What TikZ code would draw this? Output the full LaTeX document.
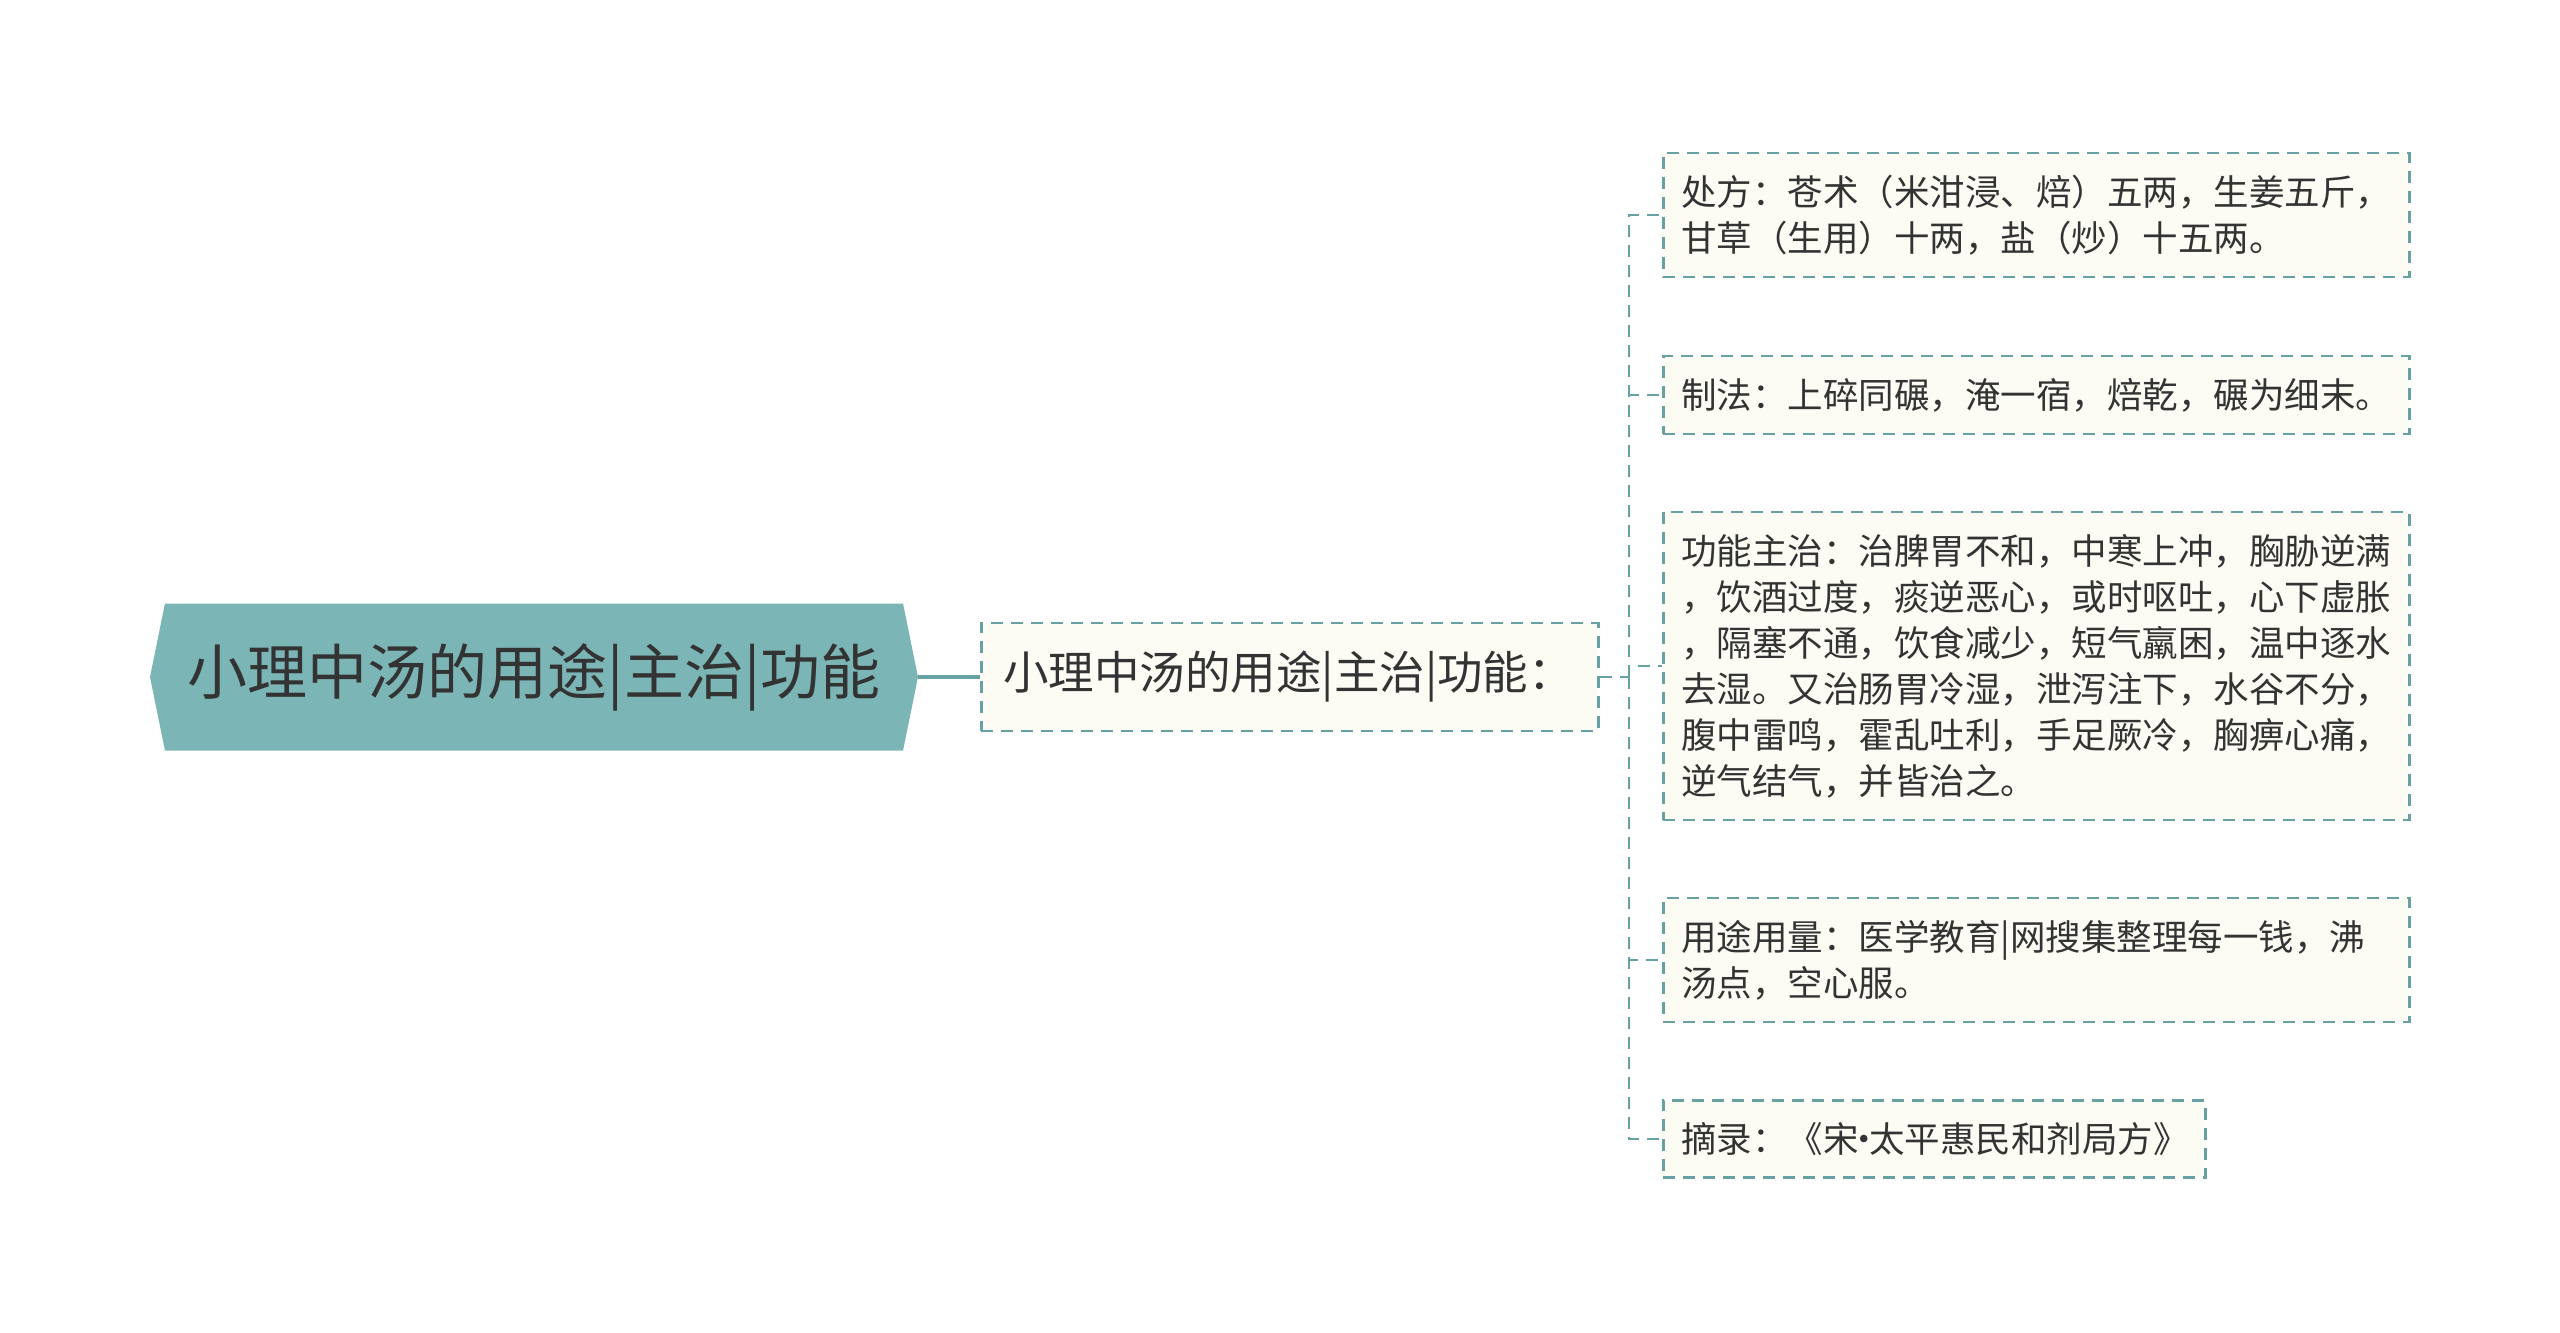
\documentclass[tikz,border=0pt]{standalone}
\usepackage{fontspec}
\setmainfont{Noto Sans CJK SC}
\usetikzlibrary{%
	shapes.symbols,%
	calc%
}
\definecolor{hexfill}{RGB}{123,181,182}
\definecolor{linkcol}{RGB}{104,161,163}
\definecolor{paper}{RGB}{252,251,244}
\definecolor{ink}{RGB}{51,51,51}
\newcommand{\middot}{\hbox to .3em{\hss·\hss}}
\tikzset{
	rootbox/.style={signal,signal to=west and east,signal pointer angle=157,
		fill=hexfill,text=ink,inner sep=0pt,minimum width=768pt,minimum height=147pt,
		font=\fontsize{60}{72}\selectfont},
	dashbox/.style={draw=linkcol,line width=2.5pt,dash pattern=on 12pt off 8pt,
		fill=paper,text=ink,anchor=west},
	subbox/.style={dashbox,inner xsep=22pt,minimum width=617pt,minimum height=108pt,
		align=left,font=\fontsize{45.5}{54}\selectfont},
	leafbox/.style={dashbox,inner xsep=18pt,inner ysep=22pt,align=left,
		font=\fontsize{35.5}{46}\selectfont}
}
\tikzset{
	link/.style={draw=linkcol,line width=2.5pt,dash pattern=on 12pt off 8pt}
}

\begin{document}
\begin{tikzpicture}[x=1pt,y=-1pt]
	\useasboundingbox (0,0) rectangle (2560,1333);
	\node[rootbox] (root) at (534,677) {小理中汤的用途|主治|功能};
	\node[subbox,text width=573pt] (sub) at (980,677) {小理中汤的用途|主治|功能：};
	%
	\node[leafbox,text width=710pt] (c1) at (1662,215)
	{处方：苍术（米泔浸、焙）五两，生姜五斤，\\甘草（生用）十两，盐（炒）十五两。};
	\node[leafbox,text width=710pt] (c2) at (1662,395)
	{制法：上碎同碾，淹一宿，焙乾，碾为细末。};
	\node[leafbox,text width=710pt] (c3) at (1662,666)
	{功能主治：治脾胃不和，中寒上冲，胸胁逆满\\，饮酒过度，痰逆恶心，或时呕吐，心下虚胀\\，隔塞不通，饮食减少，短气羸困，温中逐水\\去湿。又治肠胃冷湿，泄泻注下，水谷不分，\\腹中雷鸣，霍乱吐利，手足厥冷，胸痹心痛，\\逆气结气，并皆治之。};
	\node[leafbox,text width=710pt] (c4) at (1662,960)
	{用途用量：医学教育|网搜集整理每一钱，沸\\汤点，空心服。};
	\node[leafbox,text width=506pt] (c5) at (1662,1139)
	{摘录：《宋\middot 太平惠民和剂局方》};
	%
	\coordinate (trunk) at (1629,677);
	\draw[draw=linkcol,line width=4pt] (root.east) -- (sub.west);
	\draw[link] (sub.east) -- (trunk);
	\foreach \leaf in {c1,c2,c3,c4,c5}
		\draw[link] (trunk) |- (\leaf.west);
\end{tikzpicture}
\end{document}
